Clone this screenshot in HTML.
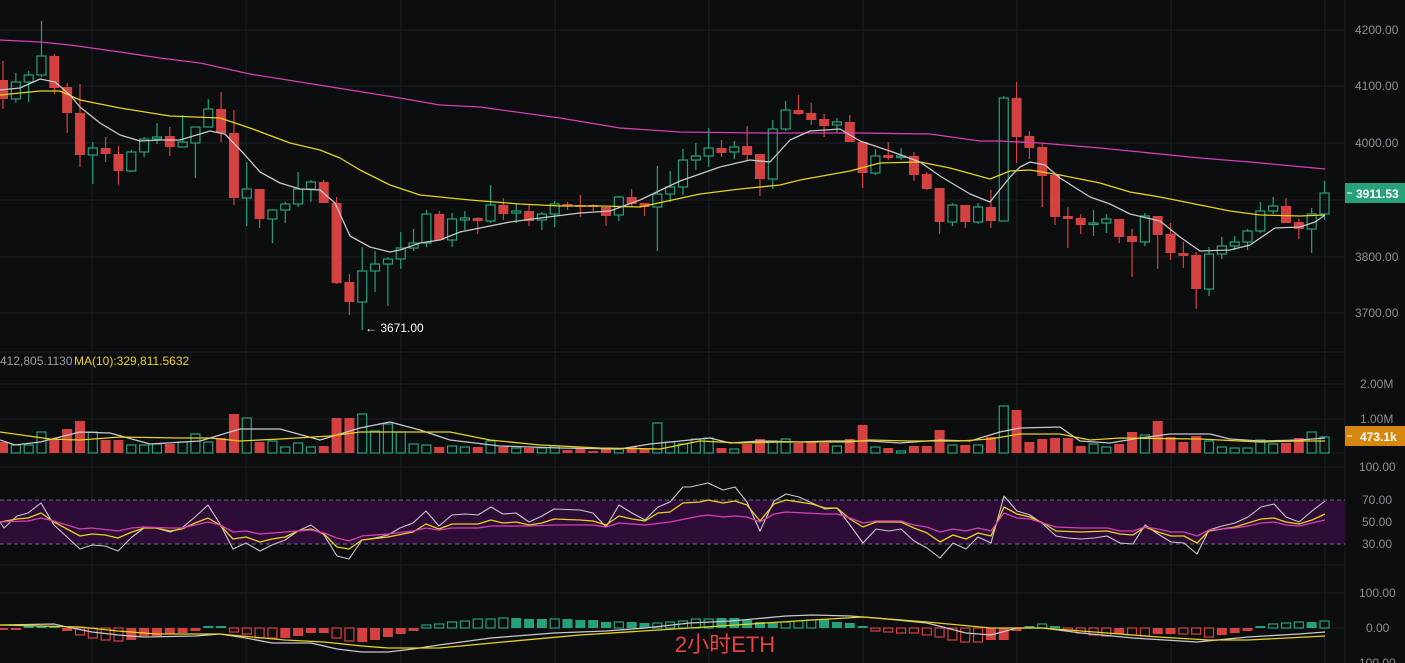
<!DOCTYPE html>
<html><head><meta charset="utf-8"><style>
html,body{margin:0;padding:0;background:#0c0d0f;width:1405px;height:663px;overflow:hidden}
svg{display:block}
text{font-family:"Liberation Sans","Noto Sans CJK SC",sans-serif}
</style></head><body>
<svg id="s" width="1405" height="663" xmlns="http://www.w3.org/2000/svg">
<rect width="1405" height="663" fill="#0c0d0f"/>
<g id="grid" stroke="#1d1f23" stroke-width="1"></g>
<rect x="0" y="500" width="1345" height="44" fill="#2e0c38"/>
<line x1="0" y1="500" x2="1345" y2="500" stroke="#6b6b70" stroke-dasharray="4,3"/>
<line x1="0" y1="544" x2="1345" y2="544" stroke="#6b6b70" stroke-dasharray="4,3"/>
<g id="c"></g>
<g id="lines" fill="none"></g>
<g font-size="12" fill="#8a8e97">
<text x="1355" y="34">4200.00</text><text x="1355" y="90">4100.00</text><text x="1355" y="147">4000.00</text>
<text x="1355" y="261">3800.00</text><text x="1355" y="317">3700.00</text>
<text x="1360" y="388">2.00M</text><text x="1360" y="423">1.00M</text>
<text x="1359" y="471">100.00</text><text x="1362" y="504">70.00</text><text x="1362" y="526">50.00</text><text x="1362" y="548">30.00</text>
<text x="1359" y="597">100.00</text><text x="1366" y="632">0.00</text><text x="1359" y="667">100.00</text>
</g>
<rect x="1345" y="183" width="60" height="20" fill="#26a17b"/>
<line x1="1347" y1="193" x2="1352" y2="193" stroke="#fff"/>
<text x="1356" y="198" font-size="12" fill="#fff" font-weight="bold">3911.53</text>
<rect x="1345" y="426" width="60" height="20" fill="#d5870f"/>
<line x1="1347" y1="436" x2="1352" y2="436" stroke="#fff"/>
<text x="1360" y="441" font-size="12" fill="#fff" font-weight="bold">473.1k</text>
<text x="365" y="332" font-size="12" fill="#fff">← 3671.00</text>
<text x="0" y="365" font-size="12" fill="#9a9ca3">412,805.1130</text>
<text x="74" y="365" font-size="12" fill="#e8d21d">MA(10):329,811.5632</text>
<text x="725" y="652" font-size="22" fill="#e8413f" text-anchor="middle">2小时ETH</text>
</svg>
<script>
(function(){
var NS="http://www.w3.org/2000/svg";
function el(p,t,a){var e=document.createElementNS(NS,t);for(var k in a)e.setAttribute(k,a[k]);p.appendChild(e);return e;}
var G=document.getElementById('grid');
[92,246,401,555,709,863,1017,1171,1325].forEach(function(x){el(G,'line',{x1:x,y1:0,x2:x,y2:663});});
[30,86,143,200,257,313,352,384,419,453,467,565,593,628].forEach(function(y){el(G,'line',{x1:0,y1:y,x2:1345,y2:y});});
el(G,'line',{x1:1345,y1:0,x2:1345,y2:663});
var C=[[0,80,99,61,109],[1,82,99,73,103],[1,75,82,71,102],[1,56,75,21,77],[0,56,88,54,94],[0,87,113,83,133],[0,113,155,84,167],[1,148,155,142,184],[0,148,154,137,162],[0,154,171,146,185],
[1,152,171,150,172],[1,139,152,137,157],[1,137,139,123,144],[0,136,147,127,156],[1,142,147,115,147],[1,127,143,127,178],[1,109,127,99,127],[0,109,133,92,142],[0,133,198,110,205],[1,189,198,162,226],
[0,189,219,189,228],[1,210,219,209,243],[1,204,210,202,223],[1,189,204,172,207],[1,182,189,180,202],[0,182,203,180,203],[0,203,283,197,284],[0,282,302,274,315],[1,271,302,247,330],[1,264,271,251,292],
[1,259,264,257,306],[1,248,259,232,269],[1,243,248,229,251],[1,214,243,210,247],[0,214,240,211,240],[1,219,240,213,247],[1,218,220,211,230],[0,218,221,217,234],[1,205,221,185,223],[0,205,214,198,220],
[1,211,213,203,223],[0,211,221,205,226],[1,214,220,212,230],[1,204,214,201,227],[0,204,206,202,210],[0,205,207,195,217],[0,205,207,204,211],[0,207,216,207,226],[1,197,215,196,221],[0,197,204,189,207],
[0,203,207,203,216],[1,194,207,166,251],[1,187,194,171,202],[1,160,187,149,195],[1,156,160,143,170],[1,148,156,128,167],[0,148,153,140,157],[1,147,152,141,159],[0,146,155,126,160],[0,154,179,154,196],
[1,129,179,120,189],[1,110,129,101,131],[0,110,114,95,115],[0,113,120,103,125],[0,119,126,114,137],[1,122,125,118,133],[0,122,142,115,142],[0,142,173,142,188],[1,156,173,149,175],[0,155,158,142,160],
[1,156,157,148,160],[0,156,175,152,181],[0,174,189,172,190],[0,188,222,188,234],[1,205,222,203,226],[0,205,222,205,228],[1,207,222,203,224],[0,207,221,190,228],[1,98,221,96,221],[0,98,137,82,163],
[0,136,148,131,159],[0,147,176,143,207],[0,175,217,175,225],[0,216,219,207,248],[0,218,225,214,234],[1,223,224,210,236],[1,219,223,214,233],[0,219,237,219,243],[0,236,242,229,277],[1,216,242,213,246],
[0,216,235,216,269],[0,234,253,223,260],[0,253,256,242,268],[0,255,289,252,309],[1,254,289,247,296],[1,246,254,237,259],[1,242,246,236,250],[1,231,242,229,250],[1,211,231,202,233],[1,206,211,197,214],
[0,206,223,198,223],[0,222,229,219,239],[1,214,229,208,253],[1,193,214,181,220]];
var V=[442,445,445,432,439,429,421,432,440,440,445,445,444,444,442,434,442,438,414,418,442,441,447,443,447,446,418,418,414,431,424,432,444,445,447,446,447,447,441,447,448,448,448,446,450,448,451,449,449,447,449,423,442,444,439,438,448,449,444,439,441,439,443,442,443,446,439,425,447,448,451,446,446,430,445,445,445,437,406,410,442,439,438,438,446,444,447,444,432,435,421,437,442,436,441,447,448,448,440,444,443,438,432,437];
var M=[[630,1],[630,1],[626,1],[626,1],[626,1],[631,1],[635,0],[638,0],[640,0],[641,0],[640,1],[636,1],[636,1],[634,1],[633,1],[631,1],[626,1],[626,1],[632,0],[634,0],[638,0],[638,0],[638,1],[636,1],[633,1],[633,1],[638,0],[641,0],[642,1],[640,1],[637,1],[634,1],[631,1],[625,0],[624,0],[622,0],[621,0],[619,0],[619,0],[618,0],[618,1],[619,1],[619,1],[619,0],[619,1],[620,1],[620,1],[622,1],[622,0],[622,1],[623,1],[623,0],[622,0],[621,0],[619,0],[619,0],[618,1],[618,1],[620,1],[622,1],[623,1],[622,0],[621,0],[620,0],[619,1],[622,1],[623,1],[626,1],[631,0],[632,0],[633,0],[633,0],[635,0],[637,0],[640,0],[642,0],[642,0],[640,1],[640,1],[631,1],[626,1],[624,0],[626,1],[630,0],[633,0],[635,0],[636,0],[634,1],[635,0],[636,0],[634,1],[634,1],[634,0],[634,0],[637,0],[635,1],[633,1],[631,1],[626,1],[624,0],[623,0],[622,0],[622,1],[621,0]];
var g=document.getElementById('c');var GR="#26a17b",RD="#d44141";
for(var i=0;i<C.length;i++){var x=3+i*12.83,c=C[i],col=c[0]?GR:RD;
 el(g,'line',{x1:x,y1:c[3],x2:x,y2:c[1],stroke:col,'stroke-width':1.2});
 el(g,'line',{x1:x,y1:c[2],x2:x,y2:c[4],stroke:col,'stroke-width':1.2});
 var h=Math.max(c[2]-c[1],1.5);
 if(c[0])el(g,'rect',{x:x-4.5,y:c[1],width:9,height:h,fill:'none',stroke:col,'stroke-width':1.2});
 else el(g,'rect',{x:x-5,y:c[1],width:10,height:h,fill:col});
 var vt=V[i];
 if(c[0])el(g,'rect',{x:x-4.5,y:vt,width:9,height:453-vt,fill:'none',stroke:col,'stroke-width':1.2});
 else el(g,'rect',{x:x-5,y:vt,width:10,height:453-vt,fill:col});
 var m=M[i],mc=m[0]<628?GR:RD,ty=Math.min(m[0],628),mh=Math.max(Math.abs(m[0]-628),1.5);
 if(m[1])el(g,'rect',{x:x-5,y:ty,width:10,height:mh,fill:mc});
 else el(g,'rect',{x:x-4.5,y:ty,width:9,height:mh,fill:'none',stroke:mc,'stroke-width':1.2});
}
var L=document.getElementById('lines');
function pl(pts,col,w){el(L,'polyline',{points:pts,stroke:col,'stroke-width':w||1.3,'stroke-linejoin':'round'});}
pl("0,40 40,42 70,45 120,52 160,58 200,63 250,74 300,82 350,90 400,98 440,105 480,107 560,118 620,128 680,132 760,133 860,133 930,134 980,141 1000,141 1040,143 1100,148 1200,158 1250,162 1325,169","#d53fb3");
pl("0,95 40,91 60,91 80,100 120,108 170,116 220,118 250,128 290,143 320,150 340,158 360,170 390,185 420,195 470,200 520,204 560,206 600,206 640,207 700,194 740,189 780,185 800,180 850,171 880,163 920,162 950,168 990,179 1010,171 1030,170 1060,175 1100,183 1130,192 1160,197 1200,205 1230,211 1260,215 1300,216 1325,215","#e6d31c");
pl("0,90 20,88 40,79 55,82 70,95 80,107 100,123 120,135 140,141 160,140 180,140 200,134 210,131 225,134 245,155 260,172 280,183 300,189 320,190 335,203 350,236 370,247 390,252 400,250 420,243 440,240 460,232 480,228 510,222 540,218 580,213 610,211 640,200 680,181 720,167 750,160 770,162 790,140 810,131 840,129 860,141 890,151 920,162 940,176 970,194 990,202 1010,177 1020,167 1030,162 1045,165 1060,178 1090,197 1110,204 1130,214 1160,221 1180,237 1200,251 1230,250 1250,245 1275,228 1300,227 1315,222 1325,215","#c8c8cc");
pl("0,440 15,445 40,442 80,432 110,433 150,444 200,441 240,429 280,429 320,440 360,428 390,422 420,430 450,440 500,446 560,448 620,449 650,444 690,440 710,438 730,443 760,441 800,442 830,441 870,441 900,443 940,440 970,441 1000,432 1020,428 1060,427 1080,441 1110,443 1140,438 1170,434 1210,434 1230,439 1260,441 1300,440 1325,438","#c8c8cc");
pl("0,432 50,439 80,440 120,437 180,438 210,438 240,441 280,439 330,436 360,432 450,432 490,440 540,445 600,448 660,449 700,441 740,443 780,442 850,442 870,440 910,441 960,441 990,439 1020,434 1060,434 1090,440 1120,438 1200,439 1260,442 1300,441 1325,441","#e6d31c");
pl("0,522 4,528 17,516 28,513 41,503 54,525 80,549 92,545 105,546 118,551 132,537 144,528 156,528 170,532 182,528 195,517 208,505 220,524 233,549 246,543 260,551 272,545 285,540 298,531 311,525 324,535 337,556 349,559 362,540 375,538 388,535 400,528 413,523 426,511 439,526 452,515 465,514 478,515 491,507 503,514 516,513 529,522 542,516 554,509 580,510 593,513 606,527 619,505 632,513 645,520 658,507 670,502 683,487 690,487 708,483 723,490 735,487 747,502 760,531 774,501 786,494 799,497 812,503 825,509 837,508 850,525 863,543 876,529 889,531 901,529 914,541 927,548 940,558 953,543 966,549 978,537 991,543 1004,496 1017,511 1030,515 1043,524 1056,536 1068,538 1081,539 1094,538 1107,536 1120,543 1133,544 1145,525 1158,534 1171,542 1184,543 1197,554 1209,530 1222,526 1235,523 1248,517 1261,507 1274,504 1286,517 1299,522 1312,511 1325,501","#c8c8cc",1.1);
pl("0,522 17,519 28,518 41,513 54,522 80,536 92,534 105,535 118,538 132,532 144,528 156,528 170,531 182,529 195,523 208,518 220,525 233,539 246,537 260,542 272,539 285,537 298,531 311,529 324,534 337,547 349,549 362,540 388,537 413,532 426,524 439,529 452,524 478,524 491,520 503,523 516,522 529,525 542,523 554,519 580,520 593,521 606,525 619,516 632,519 645,521 658,513 670,512 683,503 700,502 708,500 723,503 735,501 747,505 760,521 774,504 786,500 799,502 812,504 825,508 837,508 850,519 863,527 876,522 901,522 914,528 927,533 940,542 953,535 966,539 978,533 991,536 1004,507 1017,514 1030,517 1043,523 1056,531 1081,532 1107,531 1120,534 1133,535 1145,527 1158,532 1171,536 1184,536 1197,543 1209,531 1235,527 1248,523 1261,519 1274,518 1286,522 1299,524 1312,520 1325,514","#e6d31c",1.3);
pl("0,522 28,521 41,518 54,521 67,525 80,529 92,528 118,531 132,528 144,527 170,528 182,528 208,522 220,525 233,532 246,531 260,534 285,532 311,530 324,533 337,538 349,541 362,536 388,534 413,531 426,528 439,530 452,528 478,528 491,526 529,526 554,525 593,525 606,527 619,523 645,525 670,522 700,516 708,515 723,517 735,516 747,517 760,522 774,514 786,512 825,514 837,514 850,518 863,523 876,521 901,521 914,525 927,527 940,532 953,529 966,531 978,528 991,531 1004,513 1017,518 1030,519 1043,523 1056,527 1081,528 1107,528 1120,531 1133,531 1145,527 1158,529 1171,532 1184,532 1197,536 1209,530 1235,528 1248,526 1261,523 1274,522 1286,525 1299,526 1312,523 1325,520","#d53fb3",1.3);
pl("0,625 54,624 67,627 92,632 118,635 144,637 195,636 220,634 246,638 272,643 311,643 337,649 362,652 388,652 413,649 439,645 491,638 554,633 606,631 645,628 690,623 731,621 786,616 812,615 850,616 876,618 927,623 966,633 991,635 1017,628 1043,628 1081,633 1133,638 1197,642 1248,637 1299,634 1325,632","#c8c8cc");
pl("0,625 80,627 118,631 156,634 220,634 285,640 324,642 362,646 388,648 439,648 503,642 580,635 690,628 751,624 812,620 863,617 927,622 991,628 1043,628 1107,633 1158,637 1209,640 1248,640 1325,636","#e6d31c");
})();
</script>
</body></html>
